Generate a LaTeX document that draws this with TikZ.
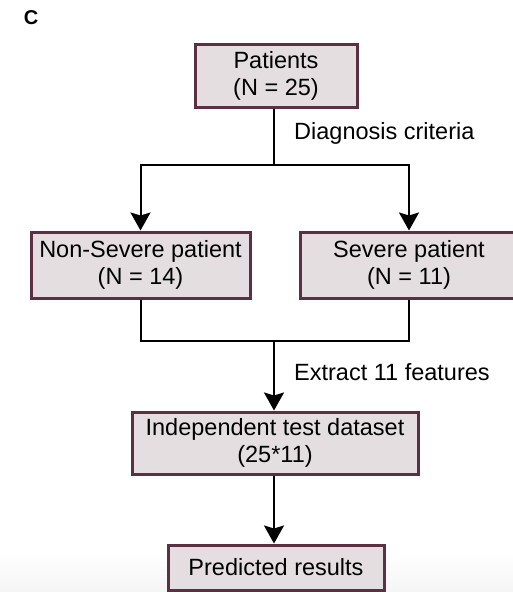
\documentclass[tikz,border=0pt]{standalone}
\usepackage{fontspec}
\setmainfont{Liberation Sans}
\usetikzlibrary{arrows.meta}
\definecolor{boxfill}{HTML}{E4DEE0}
\definecolor{boxline}{HTML}{5A3042}
\tikzset{
  flowbox/.style={draw=boxline, line width=3pt, fill=boxfill, align=center,
    inner sep=0pt, font=\fontsize{23.5}{27}\selectfont},
  link/.style={line width=2pt, black},
  arrowlink/.style={link, -{Stealth[length=18pt, width=20pt, inset=3pt]}},
  note/.style={anchor=west, inner sep=0pt, font=\fontsize{23.5}{27}\selectfont}
}
\begin{document}
\begin{tikzpicture}[x=1pt, y=-1pt]
  \useasboundingbox (0,0) rectangle (513,592);
  \clip (0,0) rectangle (513,592);
  % faint haze along the lower edge
  \shade[top color=white, bottom color=black!4] (0,552) rectangle (513,592);

  \node[font=\fontsize{20}{24}\selectfont\bfseries, inner sep=0pt] (panel) at (31,18) {C};

  \node[flowbox, minimum width=162pt, minimum height=63pt] (pat) at (276,75.5)
    {Patients\\(N = 25)};
  \node[flowbox, minimum width=219pt, minimum height=66pt] (ns) at (140.5,265)
    {Non-Severe patient\\(N = 14)};
  \node[flowbox, minimum width=218pt, minimum height=66pt] (sev) at (409,265)
    {Severe patient\\(N = 11)};
  \node[flowbox, minimum width=286pt, minimum height=62pt] (ind) at (275,443)
    {Independent test dataset\\(25*11)};
  \node[flowbox, minimum width=216pt, minimum height=45pt] (pred) at (276,567.5)
    {Predicted results};

  % split after diagnosis
  \coordinate (split) at (274,165);
  \draw[link] (pat.south -| split) -- (split);
  \draw[arrowlink] (split) -| (ns.north);
  \draw[arrowlink] (split) -| (sev.north);
  \node[note] (diag) at (294,133) {Diagnosis criteria};

  % merge into the test dataset
  \coordinate (merge) at (274,341);
  \draw[link] (ns.south) |- (merge) -| (sev.south);
  \draw[arrowlink] (merge) -- (merge |- ind.north);
  \node[note] (extract) at (294,372) {Extract 11 features};

  % test dataset to predictions
  \coordinate (indout) at (ind.south -| merge);
  \coordinate (predin) at (pred.north -| merge);
  \draw[arrowlink] (indout) -- (predin);
\end{tikzpicture}
\end{document}
